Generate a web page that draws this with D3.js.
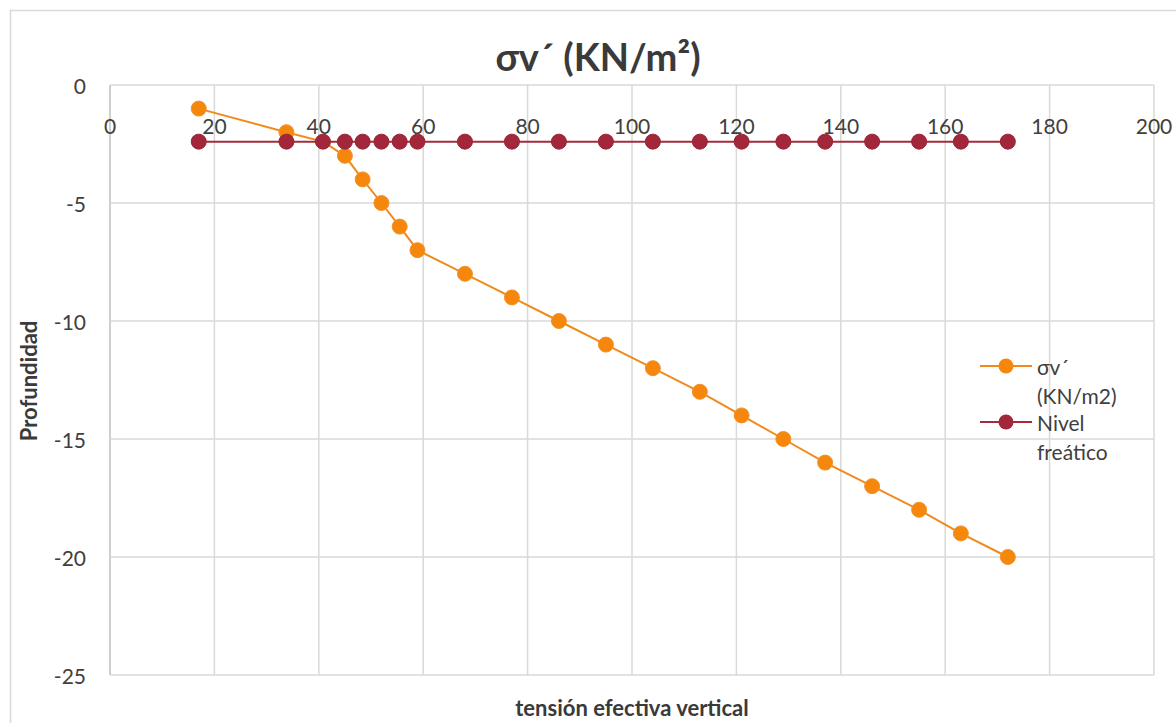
<!DOCTYPE html>
<html>
<head>
<meta charset="utf-8">
<script src="https://cdn.jsdelivr.net/npm/d3@7"></script>
<style>
  html, body { margin: 0; padding: 0; background: #ffffff; }
  svg { display: block; }
  text { font-family: Lato, "Open Sans", "Liberation Sans", sans-serif; }
</style>
</head>
<body>
<svg id="chart" width="1176" height="723"></svg>
<script>
// Effective vertical stress (kN/m²) against depth (m)
const depths = [-1, -2, -2.4, -3, -4, -5, -6, -7, -8, -9, -10, -11, -12, -13, -14, -15, -16, -17, -18, -19, -20];
const stressValues = [17, 33.8, 40.8, 45, 48.4, 52, 55.5, 58.9, 68, 77, 86, 95, 104, 113, 121, 129, 137, 146, 155, 163, 172];

// Water table: constant depth drawn across the same stress values
const waterTableDepth = -2.4;
const waterTableX = [17, 33.8, 40.8, 45, 48.4, 52, 55.5, 58.9, 68, 77, 86, 95, 104, 113, 121, 129, 137, 146, 155, 163, 172];

const xTicks = [0, 20, 40, 60, 80, 100, 120, 140, 160, 180, 200];
const yTicks = [0, -5, -10, -15, -20, -25];

const legendLines = [["σv´", "(KN/m2)"], ["Nivel", "freático"]];
const chartTitle = "σv´ (KN/m²)";
const xTitle = "tensión efectiva vertical";
const yTitle = "Profundidad";

const orange = "#F5870C";
const orangeLine = "#F08A1C";
const red = "#A2273A";
const redLine = "#A52B3C";

const svg = d3.select("#chart");

// Chart frame
svg.append("rect")
  .attr("x", 10.5).attr("y", 10.5)
  .attr("width", 1200).attr("height", 800)
  .attr("fill", "#ffffff")
  .attr("stroke", "#d9d9d9").attr("stroke-width", 1.5);

const x = d3.scaleLinear().domain([0, 200]).range([110, 1154]);
const y = d3.scaleLinear().domain([0, -25]).range([85, 675]);

// Gridlines
const grid = svg.append("g");
grid.selectAll("line.v").data(xTicks).join("line")
  .attr("class", "v")
  .attr("x1", d => x(d)).attr("x2", d => x(d))
  .attr("y1", y(0)).attr("y2", y(-25))
  .attr("stroke", d => d === 0 ? "#bfbfbf" : "#d9d9d9")
  .attr("stroke-width", 1.5);
grid.selectAll("line.h").data(yTicks).join("line")
  .attr("class", "h")
  .attr("x1", x(0)).attr("x2", x(200))
  .attr("y1", d => y(d)).attr("y2", d => y(d))
  .attr("stroke", "#d9d9d9")
  .attr("stroke-width", 1.5);

// Axis tick labels
svg.append("g").selectAll("text").data(xTicks).join("text")
  .attr("x", d => x(d))
  .attr("y", 125)
  .attr("text-anchor", "middle")
  .attr("dominant-baseline", "central")
  .attr("font-size", 21)
  .attr("fill", "#404040")
  .text(d => d);

svg.append("g").selectAll("text").data(yTicks).join("text")
  .attr("x", 86)
  .attr("y", d => y(d))
  .attr("text-anchor", "end")
  .attr("dominant-baseline", "central")
  .attr("font-size", 21)
  .attr("fill", "#404040")
  .text(d => d);

// Titles
svg.append("text")
  .attr("x", 598).attr("y", 71)
  .attr("text-anchor", "middle")
  .attr("font-size", 38)
  .attr("font-weight", "bold")
  .attr("fill", "#3a3a3a")
  .text(chartTitle);

svg.append("text")
  .attr("x", 632).attr("y", 716)
  .attr("text-anchor", "middle")
  .attr("font-size", 22)
  .attr("font-weight", "bold")
  .attr("fill", "#3a3a3a")
  .text(xTitle);

svg.append("text")
  .attr("transform", "translate(37,381) rotate(-90)")
  .attr("text-anchor", "middle")
  .attr("font-size", 22)
  .attr("font-weight", "bold")
  .attr("fill", "#3a3a3a")
  .text(yTitle);

// Series data
const stressData = depths.map((d, i) => ({ x: stressValues[i], y: d }));
const waterData = waterTableX.map(v => ({ x: v, y: waterTableDepth }));

const line = d3.line().x(d => x(d.x)).y(d => y(d.y));

function drawSeries(data, stroke, fill, edge, markers) {
  const g = svg.append("g");
  g.append("path")
    .datum(data)
    .attr("d", line)
    .attr("fill", "none")
    .attr("stroke", stroke)
    .attr("stroke-width", 2);
  g.selectAll("circle").data(markers).join("circle")
    .attr("cx", d => x(d.x))
    .attr("cy", d => y(d.y))
    .attr("r", 7.5)
    .attr("fill", fill)
    .attr("stroke", edge)
    .attr("stroke-width", 1);
}

// the stress point at the water table sits under the water-table marker
drawSeries(stressData, orangeLine, orange, "#f2932a", stressData.filter(d => d.y !== waterTableDepth));
drawSeries(waterData, redLine, red, "#9a2336", waterData);

// Legend
const legend = svg.append("g");
const legendItems = [
  { color: orangeLine, fill: orange, ly: 366, lines: legendLines[0] },
  { color: redLine, fill: red, ly: 422, lines: legendLines[1] }
];
legendItems.forEach(item => {
  legend.append("line")
    .attr("x1", 980).attr("x2", 1032)
    .attr("y1", item.ly).attr("y2", item.ly)
    .attr("stroke", item.color).attr("stroke-width", 2);
  legend.append("circle")
    .attr("cx", 1006).attr("cy", item.ly).attr("r", 7.5)
    .attr("fill", item.fill);
  item.lines.forEach((t, k) => {
    legend.append("text")
      .attr("x", 1037)
      .attr("y", item.ly + k * 29)
      .attr("dominant-baseline", "central")
      .attr("font-size", 21)
      .attr("fill", "#404040")
      .text(t);
  });
});
</script>
</body>
</html>
